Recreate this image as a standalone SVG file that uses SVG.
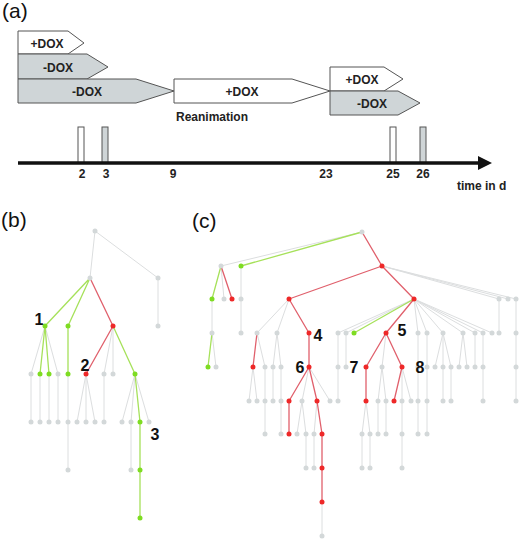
<svg xmlns="http://www.w3.org/2000/svg" width="519" height="539" viewBox="0 0 519 539">
<style>
.lbl{font-family:"Liberation Sans",Arial,sans-serif;font-size:21px;fill:#111}
.t{font-family:"Liberation Sans",Arial,sans-serif;font-weight:bold;font-size:12px;fill:#222}
.num{font-family:"Liberation Sans",Arial,sans-serif;font-weight:bold;font-size:16px;fill:#111}
.sw{fill:#fff;stroke:#555;stroke-width:1}
.sg{fill:#cfd5d7;stroke:#555;stroke-width:1}
.eg{fill:none;stroke:#dcdedf;stroke-width:1}
.eG{fill:none;stroke:#a6e15a;stroke-width:1.3}
.eR{fill:none;stroke:#e0606c;stroke-width:1.3}
.ng{fill:#d3d8d9}
.nG{fill:#7edc22}
.nR{fill:#ee2828}
</style>
<g id="panel-a">
<text class="lbl" x="2" y="18">(a)</text>
<g id="s1"><polygon class="sw" points="18,31 68,31 84,43 68,54 18,54"/><text class="t" x="47" y="48" text-anchor="middle">+DOX</text></g>
<g id="s2"><polygon class="sg" points="18,54 87,54 108,67 87,79 18,79"/><text class="t" x="58" y="72" text-anchor="middle">-DOX</text></g>
<g id="s3"><polygon class="sg" points="18,79 136,79 174,91 136,103 18,103"/><text class="t" x="87" y="96" text-anchor="middle">-DOX</text></g>
<g id="s4"><polygon class="sw" points="174,79 292,79 330,91 292,103 174,103"/><text class="t" x="242" y="96" text-anchor="middle">+DOX</text></g>
<g id="s5"><polygon class="sw" points="330,67 384,67 403,79 384,91 330,91"/><text class="t" x="362" y="84" text-anchor="middle">+DOX</text></g>
<g id="s6"><polygon class="sg" points="330,91 398,91 420,103 398,115 330,115"/><text class="t" x="372" y="108" text-anchor="middle">-DOX</text></g>
<text class="t" x="176" y="121">Reanimation</text>
<rect class="sw" x="78" y="127" width="6" height="36"/>
<rect class="sg" x="102" y="127" width="6" height="36"/>
<rect class="sw" x="390" y="127" width="6" height="36"/>
<rect class="sg" x="420" y="127" width="6" height="36"/>
<line x1="18" y1="163" x2="480" y2="163" stroke="#111" stroke-width="3.5"/>
<polygon points="478,156 492,163 478,170" fill="#111"/>
<text class="t" x="82" y="178" text-anchor="middle">2</text>
<text class="t" x="106" y="178" text-anchor="middle">3</text>
<text class="t" x="173" y="178" text-anchor="middle">9</text>
<text class="t" x="326" y="178" text-anchor="middle">23</text>
<text class="t" x="393" y="178" text-anchor="middle">25</text>
<text class="t" x="423" y="178" text-anchor="middle">26</text>
<text class="t" x="457" y="190">time in d</text>
</g>
<text class="lbl" x="1" y="227">(b)</text>
<text class="lbl" x="192" y="228">(c)</text>
<g id="connectors">
<path class="eg" d="M95,231L90,278M95,231L158,278M158,278L158,326M45,326L31,374M45,326L58,374M113,326L104,374M113,326L113,374M31,374L31,422M40,374L40,422M49,374L49,422M58,374L58,422M68,374L68,422M86,374L77,422M86,374L86,422M86,374L95,422M104,374L104,422M135,374L122,422M135,374L131,422M135,374L149,422M68,422L68,470M131,422L131,470"/>
<path class="eg" d="M362,232L221,266M221,266L224,299M241,266L241,299M241,299L241,333M212,299L212,333M212,333L216,367M382,266L499,299M382,266L508,299M382,266L516,299M289,299L257,333M289,299L277,333M414,299L338,333M414,299L346,333M414,299L418,333M414,299L427,333M414,299L443,333M414,299L463,333M414,299L475,333M414,299L483,333M414,299L492,333M499,299L499,333M516,299L516,333M257,333L265,367M277,333L273,367M277,333L281,367M338,333L338,367M346,333L346,367M386,333L382,367M418,333L418,367M427,333L427,367M443,333L435,367M443,333L443,367M443,333L451,367M463,333L459,367M463,333L467,367M475,333L475,367M483,333L483,367M516,333L516,367M253,367L249,401M253,367L257,401M265,367L265,401M273,367L273,401M281,367L281,401M309,367L302,401M309,367L330,401M338,367L338,401M382,367L378,401M382,367L386,401M402,367L402,401M402,367L411,401M418,367L418,401M427,367L427,401M443,367L443,401M451,367L451,401M483,367L483,401M516,367L516,401M265,401L265,434M281,401L281,434M302,401L297,434M302,401L306,434M317,401L314,434M366,401L362,434M366,401L370,434M378,401L378,434M386,401L386,434M402,401L402,434M418,401L418,434M427,401L427,434M306,434L306,468M314,434L314,468M362,434L362,468M370,434L370,468M402,434L402,468M322,502L322,536"/>
<path class="eG" d="M90,278L45,326M90,278L68,326M45,326L40,374M45,326L49,374M68,326L68,374M113,326L135,374M135,374L140,422M140,422L140,470M140,470L140,518"/>
<path class="eG" d="M362,232L241,266M221,266L212,299M212,333L208,367M414,299L354,333"/>
<path class="eR" d="M90,278L113,326M113,326L86,374"/>
<path class="eR" d="M362,232L382,266M221,266L232,299M382,266L289,299M382,266L414,299M289,299L309,333M257,333L253,367M309,333L309,367M309,367L289,401M309,367L317,401M289,401L289,434M317,401L322,434M322,434L322,468M322,468L322,502M414,299L386,333M386,333L366,367M386,333L402,367M366,367L366,401M402,367L394,401"/>
</g>
<g id="tree-b">
<g id="b1"><circle class="ng" cx="95" cy="231" r="2.5"/></g>
<g id="b2"><circle class="ng" cx="90" cy="278" r="2.5"/></g>
<g id="b3"><circle class="ng" cx="158" cy="278" r="2.5"/></g>
<g id="b4"><circle class="ng" cx="158" cy="326" r="2.5"/></g>
<g id="b5"><circle class="nG" cx="45" cy="326" r="2.5"/></g>
<g id="b6"><circle class="nG" cx="68" cy="326" r="2.5"/></g>
<g id="b7"><circle class="nR" cx="113" cy="326" r="2.5"/></g>
<g id="b8"><circle class="ng" cx="31" cy="374" r="2.5"/></g>
<g id="b9"><circle class="nG" cx="40" cy="374" r="2.5"/></g>
<g id="b10"><circle class="nG" cx="49" cy="374" r="2.5"/></g>
<g id="b11"><circle class="ng" cx="58" cy="374" r="2.5"/></g>
<g id="b12"><circle class="nG" cx="68" cy="374" r="2.5"/></g>
<g id="b13"><circle class="nR" cx="86" cy="374" r="2.5"/></g>
<g id="b14"><circle class="ng" cx="104" cy="374" r="2.5"/></g>
<g id="b15"><circle class="ng" cx="113" cy="374" r="2.5"/></g>
<g id="b16"><circle class="nG" cx="135" cy="374" r="2.5"/></g>
<g id="b17"><circle class="ng" cx="31" cy="422" r="2.5"/></g>
<g id="b18"><circle class="ng" cx="40" cy="422" r="2.5"/></g>
<g id="b19"><circle class="ng" cx="49" cy="422" r="2.5"/></g>
<g id="b20"><circle class="ng" cx="58" cy="422" r="2.5"/></g>
<g id="b21"><circle class="ng" cx="68" cy="422" r="2.5"/></g>
<g id="b22"><circle class="ng" cx="77" cy="422" r="2.5"/></g>
<g id="b23"><circle class="ng" cx="86" cy="422" r="2.5"/></g>
<g id="b24"><circle class="ng" cx="95" cy="422" r="2.5"/></g>
<g id="b25"><circle class="ng" cx="104" cy="422" r="2.5"/></g>
<g id="b26"><circle class="ng" cx="122" cy="422" r="2.5"/></g>
<g id="b27"><circle class="ng" cx="131" cy="422" r="2.5"/></g>
<g id="b28"><circle class="nG" cx="140" cy="422" r="2.5"/></g>
<g id="b29"><circle class="ng" cx="149" cy="422" r="2.5"/></g>
<g id="b30"><circle class="ng" cx="68" cy="470" r="2.5"/></g>
<g id="b31"><circle class="ng" cx="131" cy="470" r="2.5"/></g>
<g id="b32"><circle class="nG" cx="140" cy="470" r="2.5"/></g>
<g id="b33"><circle class="nG" cx="140" cy="518" r="2.5"/></g>
</g>
<g id="tree-c">
<g id="c1"><circle class="ng" cx="362" cy="232" r="2.5"/></g>
<g id="c2"><circle class="ng" cx="221" cy="266" r="2.5"/></g>
<g id="c3"><circle class="nG" cx="241" cy="266" r="2.5"/></g>
<g id="c4"><circle class="nR" cx="382" cy="266" r="2.5"/></g>
<g id="c5"><circle class="nG" cx="212" cy="299" r="2.5"/></g>
<g id="c6"><circle class="ng" cx="224" cy="299" r="2.5"/></g>
<g id="c7"><circle class="nR" cx="232" cy="299" r="2.5"/></g>
<g id="c8"><circle class="ng" cx="241" cy="299" r="2.5"/></g>
<g id="c9"><circle class="nR" cx="289" cy="299" r="2.5"/></g>
<g id="c10"><circle class="nR" cx="414" cy="299" r="2.5"/></g>
<g id="c11"><circle class="ng" cx="499" cy="299" r="2.5"/></g>
<g id="c12"><circle class="ng" cx="508" cy="299" r="2.5"/></g>
<g id="c13"><circle class="ng" cx="516" cy="299" r="2.5"/></g>
<g id="c14"><circle class="ng" cx="212" cy="333" r="2.5"/></g>
<g id="c15"><circle class="ng" cx="241" cy="333" r="2.5"/></g>
<g id="c16"><circle class="ng" cx="257" cy="333" r="2.5"/></g>
<g id="c17"><circle class="ng" cx="277" cy="333" r="2.5"/></g>
<g id="c18"><circle class="nR" cx="309" cy="333" r="2.5"/></g>
<g id="c19"><circle class="ng" cx="338" cy="333" r="2.5"/></g>
<g id="c20"><circle class="ng" cx="346" cy="333" r="2.5"/></g>
<g id="c21"><circle class="nG" cx="354" cy="333" r="2.5"/></g>
<g id="c22"><circle class="nR" cx="386" cy="333" r="2.5"/></g>
<g id="c23"><circle class="ng" cx="418" cy="333" r="2.5"/></g>
<g id="c24"><circle class="ng" cx="427" cy="333" r="2.5"/></g>
<g id="c25"><circle class="ng" cx="443" cy="333" r="2.5"/></g>
<g id="c26"><circle class="ng" cx="463" cy="333" r="2.5"/></g>
<g id="c27"><circle class="ng" cx="475" cy="333" r="2.5"/></g>
<g id="c28"><circle class="ng" cx="483" cy="333" r="2.5"/></g>
<g id="c29"><circle class="ng" cx="492" cy="333" r="2.5"/></g>
<g id="c30"><circle class="ng" cx="499" cy="333" r="2.5"/></g>
<g id="c31"><circle class="ng" cx="516" cy="333" r="2.5"/></g>
<g id="c32"><circle class="nG" cx="208" cy="367" r="2.5"/></g>
<g id="c33"><circle class="ng" cx="216" cy="367" r="2.5"/></g>
<g id="c34"><circle class="nR" cx="253" cy="367" r="2.5"/></g>
<g id="c35"><circle class="ng" cx="265" cy="367" r="2.5"/></g>
<g id="c36"><circle class="ng" cx="273" cy="367" r="2.5"/></g>
<g id="c37"><circle class="ng" cx="281" cy="367" r="2.5"/></g>
<g id="c38"><circle class="nR" cx="309" cy="367" r="2.5"/></g>
<g id="c39"><circle class="ng" cx="338" cy="367" r="2.5"/></g>
<g id="c40"><circle class="ng" cx="346" cy="367" r="2.5"/></g>
<g id="c41"><circle class="nR" cx="366" cy="367" r="2.5"/></g>
<g id="c42"><circle class="ng" cx="382" cy="367" r="2.5"/></g>
<g id="c43"><circle class="nR" cx="402" cy="367" r="2.5"/></g>
<g id="c44"><circle class="ng" cx="418" cy="367" r="2.5"/></g>
<g id="c45"><circle class="ng" cx="427" cy="367" r="2.5"/></g>
<g id="c46"><circle class="ng" cx="435" cy="367" r="2.5"/></g>
<g id="c47"><circle class="ng" cx="443" cy="367" r="2.5"/></g>
<g id="c48"><circle class="ng" cx="451" cy="367" r="2.5"/></g>
<g id="c49"><circle class="ng" cx="459" cy="367" r="2.5"/></g>
<g id="c50"><circle class="ng" cx="467" cy="367" r="2.5"/></g>
<g id="c51"><circle class="ng" cx="475" cy="367" r="2.5"/></g>
<g id="c52"><circle class="ng" cx="483" cy="367" r="2.5"/></g>
<g id="c53"><circle class="ng" cx="516" cy="367" r="2.5"/></g>
<g id="c54"><circle class="ng" cx="249" cy="401" r="2.5"/></g>
<g id="c55"><circle class="ng" cx="257" cy="401" r="2.5"/></g>
<g id="c56"><circle class="ng" cx="265" cy="401" r="2.5"/></g>
<g id="c57"><circle class="ng" cx="273" cy="401" r="2.5"/></g>
<g id="c58"><circle class="ng" cx="281" cy="401" r="2.5"/></g>
<g id="c59"><circle class="nR" cx="289" cy="401" r="2.5"/></g>
<g id="c60"><circle class="ng" cx="302" cy="401" r="2.5"/></g>
<g id="c61"><circle class="nR" cx="317" cy="401" r="2.5"/></g>
<g id="c62"><circle class="ng" cx="330" cy="401" r="2.5"/></g>
<g id="c63"><circle class="ng" cx="338" cy="401" r="2.5"/></g>
<g id="c64"><circle class="nR" cx="366" cy="401" r="2.5"/></g>
<g id="c65"><circle class="ng" cx="378" cy="401" r="2.5"/></g>
<g id="c66"><circle class="ng" cx="386" cy="401" r="2.5"/></g>
<g id="c67"><circle class="nR" cx="394" cy="401" r="2.5"/></g>
<g id="c68"><circle class="ng" cx="402" cy="401" r="2.5"/></g>
<g id="c69"><circle class="ng" cx="411" cy="401" r="2.5"/></g>
<g id="c70"><circle class="ng" cx="418" cy="401" r="2.5"/></g>
<g id="c71"><circle class="ng" cx="427" cy="401" r="2.5"/></g>
<g id="c72"><circle class="ng" cx="443" cy="401" r="2.5"/></g>
<g id="c73"><circle class="ng" cx="451" cy="401" r="2.5"/></g>
<g id="c74"><circle class="ng" cx="483" cy="401" r="2.5"/></g>
<g id="c75"><circle class="ng" cx="516" cy="401" r="2.5"/></g>
<g id="c76"><circle class="ng" cx="265" cy="434" r="2.5"/></g>
<g id="c77"><circle class="ng" cx="281" cy="434" r="2.5"/></g>
<g id="c78"><circle class="nR" cx="289" cy="434" r="2.5"/></g>
<g id="c79"><circle class="ng" cx="297" cy="434" r="2.5"/></g>
<g id="c80"><circle class="ng" cx="306" cy="434" r="2.5"/></g>
<g id="c81"><circle class="ng" cx="314" cy="434" r="2.5"/></g>
<g id="c82"><circle class="nR" cx="322" cy="434" r="2.5"/></g>
<g id="c83"><circle class="ng" cx="362" cy="434" r="2.5"/></g>
<g id="c84"><circle class="ng" cx="370" cy="434" r="2.5"/></g>
<g id="c85"><circle class="ng" cx="378" cy="434" r="2.5"/></g>
<g id="c86"><circle class="ng" cx="386" cy="434" r="2.5"/></g>
<g id="c87"><circle class="ng" cx="402" cy="434" r="2.5"/></g>
<g id="c88"><circle class="ng" cx="418" cy="434" r="2.5"/></g>
<g id="c89"><circle class="ng" cx="427" cy="434" r="2.5"/></g>
<g id="c90"><circle class="ng" cx="306" cy="468" r="2.5"/></g>
<g id="c91"><circle class="ng" cx="314" cy="468" r="2.5"/></g>
<g id="c92"><circle class="nR" cx="322" cy="468" r="2.5"/></g>
<g id="c93"><circle class="ng" cx="362" cy="468" r="2.5"/></g>
<g id="c94"><circle class="ng" cx="370" cy="468" r="2.5"/></g>
<g id="c95"><circle class="ng" cx="402" cy="468" r="2.5"/></g>
<g id="c96"><circle class="nR" cx="322" cy="502" r="2.5"/></g>
<g id="c97"><circle class="ng" cx="322" cy="536" r="2.5"/></g>
</g>
<g id="labels">
<text class="num" x="39" y="325" text-anchor="middle">1</text>
<text class="num" x="85" y="371" text-anchor="middle">2</text>
<text class="num" x="155" y="440" text-anchor="middle">3</text>
<text class="num" x="318" y="341" text-anchor="middle">4</text>
<text class="num" x="402" y="336" text-anchor="middle">5</text>
<text class="num" x="300" y="373" text-anchor="middle">6</text>
<text class="num" x="354" y="373" text-anchor="middle">7</text>
<text class="num" x="420" y="373" text-anchor="middle">8</text>
</g>
</svg>
